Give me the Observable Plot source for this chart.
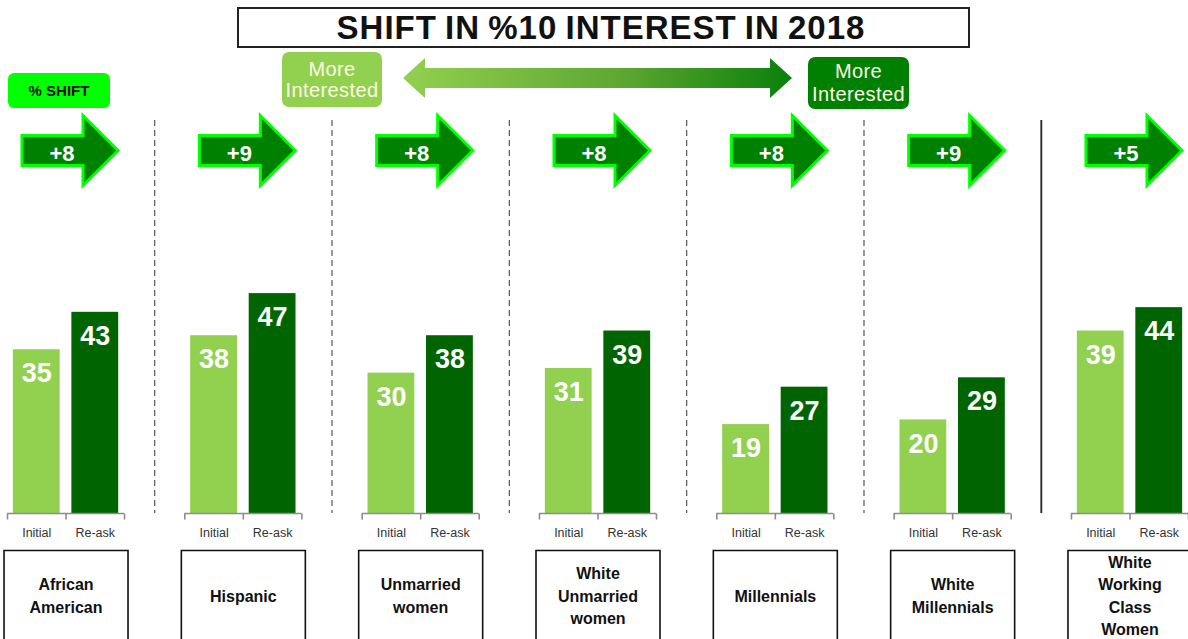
<!DOCTYPE html>
<html><head><meta charset="utf-8">
<script src="https://cdn.jsdelivr.net/npm/d3@7"></script>
<script src="https://cdn.jsdelivr.net/npm/@observablehq/plot@0.6"></script>
<style>
html,body{margin:0;padding:0;overflow:hidden;background:#fff;}
body{font-family:"Liberation Sans",Arial,sans-serif;}
#wrap{width:1188px;height:639px;position:relative;overflow:hidden;background:#fff;}
#head{position:relative;width:1188px;height:110px;}
#title{position:absolute;left:237px;top:7px;width:724px;height:37px;border:2px solid #222;
  display:flex;align-items:center;justify-content:center;font-weight:bold;font-size:33px;
  letter-spacing:1px;word-spacing:-2px;color:#111;padding-right:5px;}
#shift{position:absolute;left:8px;top:73px;width:102px;height:35px;border-radius:6px;background:#00ff00;
  display:flex;align-items:center;justify-content:center;font-weight:bold;font-size:15px;color:#111;}
.pill{position:absolute;border-radius:7px;display:flex;align-items:center;justify-content:center;
  text-align:center;font-size:20px;letter-spacing:0.4px;color:#fffbe6;}
#less{left:282px;top:52px;width:100px;height:55px;background:#92d050;line-height:21px;}
#more{left:808px;top:57px;width:101px;height:52px;background:#008000;line-height:23px;}
#garrow{position:absolute;left:403px;top:58px;width:389px;height:40px;
  background:linear-gradient(to right,#92d050,#5fa832 55%,#0a800a);
  clip-path:polygon(0 20px,22px 0,22px 10px,367px 10px,367px 0,389px 20px,367px 40px,367px 30px,22px 30px,22px 40px);}
#chart svg{display:block;}
</style></head><body>
<div id="wrap">
  <div id="head">
    <div id="title">SHIFT IN %10 INTEREST IN 2018</div>
    <div id="shift">% SHIFT</div>
    <div class="pill" id="less">More<br>Interested</div>
    <div id="garrow"></div>
    <div class="pill" id="more">More<br>Interested</div>
  </div>
  <div id="chart"></div>
</div>
<script>
// ---- data ----
const categories = [
  "African\nAmerican",
  "Hispanic",
  "Unmarried\nwomen",
  "White\nUnmarried\nwomen",
  "Millennials",
  "White\nMillennials",
  "White\nWorking\nClass\nWomen"
];
const waves = ["Initial", "Re-ask"];
const initialValues = [35, 38, 30, 31, 19, 20, 39];
const reaskValues = [43, 47, 38, 39, 27, 29, 44];
const shiftLabels = ["+8", "+9", "+8", "+8", "+8", "+9", "+5"];
const separatorStyles = ["dashed", "dashed", "dashed", "dashed", "dashed", "solid", null];

// ---- tables built from the arrays ----
const bars = categories.flatMap((c, i) => [
  {group: c, wave: waves[0], value: initialValues[i]},
  {group: c, wave: waves[1], value: reaskValues[i]}
]);
const groups = categories.map((c, i) => ({group: c, shift: shiftLabels[i], sep: separatorStyles[i]}));

// ---- custom symbols ----
const arrowSymbol = {draw(ctx) {
  ctx.moveTo(-48, -15); ctx.lineTo(13, -15); ctx.lineTo(13, -35); ctx.lineTo(48, 0);
  ctx.lineTo(13, 35); ctx.lineTo(13, 15); ctx.lineTo(-48, 15); ctx.closePath();
}};
const tickSymbol = {draw(ctx) { ctx.moveTo(0, 0); ctx.lineTo(0, 6); }};
const boxSymbol = {draw(ctx) { ctx.rect(-62, 0, 124, 130); }};

const font = '"Liberation Sans", Arial, sans-serif';
const axisGray = "#8c8c8c";

const chart = Plot.plot({
  width: 1188,
  height: 529,
  marginLeft: 7,
  marginRight: 0,
  marginTop: 10,
  marginBottom: 126,
  style: {fontFamily: font, background: "white", overflow: "hidden"},
  fx: {domain: categories, paddingInner: 0.34, paddingOuter: 0, round: false, axis: null, label: null},
  x: {domain: waves, paddingInner: 0.2, paddingOuter: 0.1, round: false, axis: null, label: null},
  y: {domain: [0, 84], axis: null, label: null},
  color: {domain: waves, range: ["#92d050", "#006400"]},
  marks: [
    Plot.ruleX(groups.filter(g => g.sep === "dashed"), {fx: "group", x: () => "Re-ask", dx: 59.4,
      stroke: "#555", strokeWidth: 1.2, strokeDasharray: "6,4"}),
    Plot.ruleX(groups.filter(g => g.sep === "solid"), {fx: "group", x: () => "Re-ask", dx: 59.4,
      stroke: "#222", strokeWidth: 1.8}),
    Plot.barY(bars, {fx: "group", x: "wave", y: "value", fill: "wave"}),
    Plot.ruleY([0], {stroke: axisGray, strokeWidth: 1.6}),
    Plot.dot([0], {y: d => d, frameAnchor: "left", symbol: tickSymbol, stroke: axisGray, strokeWidth: 1.6, fill: "none"}),
    Plot.dot([0], {y: d => d, frameAnchor: "middle", symbol: tickSymbol, stroke: axisGray, strokeWidth: 1.6, fill: "none"}),
    Plot.dot([0], {y: d => d, frameAnchor: "right", symbol: tickSymbol, stroke: axisGray, strokeWidth: 1.6, fill: "none"}),
    Plot.text(bars, {fx: "group", x: "wave", y: "value", text: d => String(d.value), dy: 24,
      fill: "white", fontSize: 27, fontWeight: "bold", lineAnchor: "middle"}),
    Plot.text(bars, {fx: "group", x: "wave", y: () => 0, text: "wave", dy: 19,
      fill: "#333", fontSize: 12.5, lineAnchor: "middle"}),
    Plot.dot(groups, {fx: "group", frameAnchor: "top", dx: 4, dy: 30, symbol: arrowSymbol,
      fill: "#008000", stroke: "#00ff00", strokeWidth: 3, strokeLinejoin: "miter"}),
    Plot.text(groups, {fx: "group", frameAnchor: "top", dx: -4, dy: 33, text: "shift",
      fill: "white", fontSize: 22, fontWeight: "bold", lineAnchor: "middle"}),
    Plot.dot(groups, {fx: "group", frameAnchor: "bottom", dy: 37, symbol: boxSymbol,
      fill: "white", stroke: "#111", strokeWidth: 1.6}),
    Plot.text(groups, {fx: "group", frameAnchor: "bottom", dy: 81, text: "group",
      fill: "#111", fontSize: 16, fontWeight: "bold", lineHeight: 1.4, lineAnchor: "middle"})
  ]
});
document.getElementById("chart").appendChild(chart);
</script>
</body></html>
